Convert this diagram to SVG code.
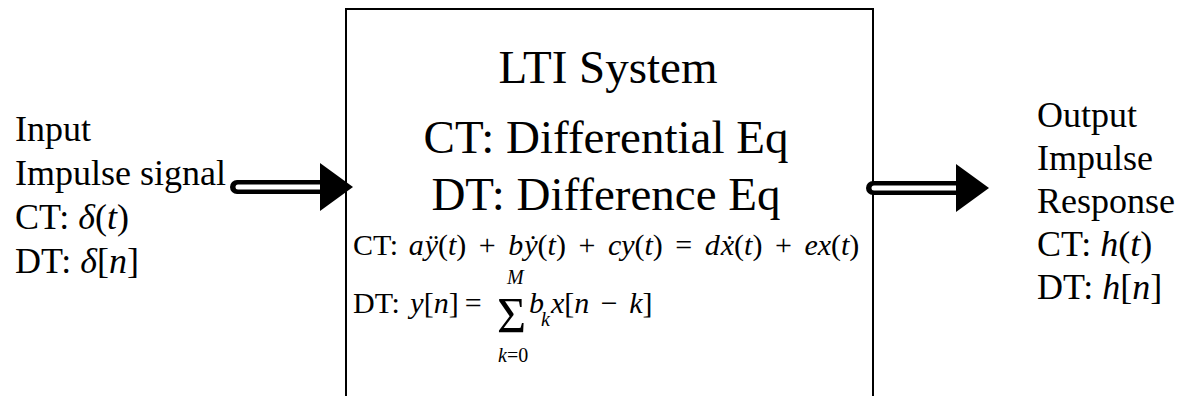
<svg xmlns="http://www.w3.org/2000/svg" width="1183" height="396" viewBox="0 0 1183 396" font-family="'Liberation Serif', 'Times New Roman', 'DejaVu Serif', serif">
<style>
text{font-family:'Liberation Serif','Times New Roman','DejaVu Serif',serif;fill:#000}
.lbl{font-size:36px}
.big{font-size:47px}
.eq{font-size:30px}
.sm{font-size:20px}
.it{font-style:italic}
</style>
<rect width="1183" height="396" fill="#fff"/>
<g id="input" font-family="'Liberation Serif', serif">
<text class="lbl" x="15" y="141">Input</text>
<text class="lbl" x="15" y="185">Impulse signal</text>
<text class="lbl" x="15" y="229">CT: <tspan class="it">δ</tspan>(<tspan class="it">t</tspan>)</text>
<text class="lbl" x="15" y="273">DT: <tspan class="it">δ</tspan>[<tspan class="it">n</tspan>]</text>
</g>
<g id="lti-system" font-family="'Liberation Serif', serif">
<rect x="346" y="9" width="527" height="400" fill="none" stroke="#000" stroke-width="2"/>
<text class="big" x="608" y="83" text-anchor="middle">LTI System</text>
<text class="big" x="606" y="153" text-anchor="middle">CT: Differential Eq</text>
<text class="big" x="606" y="210" text-anchor="middle">DT: Difference Eq</text>
<text class="eq" x="353" y="255">CT: <tspan class="it" dx="3">a</tspan><tspan class="it" dx="1">ÿ</tspan>(<tspan class="it">t</tspan>)<tspan dx="5"> + </tspan><tspan class="it" dx="5">b</tspan><tspan class="it" dx="1">ẏ</tspan>(<tspan class="it">t</tspan>)<tspan dx="5"> + </tspan><tspan class="it" dx="5">cy</tspan>(<tspan class="it">t</tspan>)<tspan dx="5"> = </tspan><tspan class="it" dx="5">d</tspan><tspan class="it" dx="1">ẋ</tspan>(<tspan class="it">t</tspan>)<tspan dx="5"> + </tspan><tspan class="it" dx="5">ex</tspan>(<tspan class="it">t</tspan>)</text>
<text class="eq" x="353" y="313">DT: <tspan class="it" dx="3">y</tspan>[<tspan class="it">n</tspan>]<tspan dx="6">=</tspan></text>
<text x="497" y="332" style="font-size:50px">Σ</text>
<text class="sm it" x="507" y="284">M</text>
<text class="sm" x="498" y="362"><tspan class="it">k</tspan>=0</text>
<text class="eq it" x="529" y="313">b</text>
<text class="sm it" x="541" y="326">k</text>
<text class="eq" x="551" y="313"><tspan class="it">x</tspan>[<tspan class="it">n</tspan><tspan dx="4"> − </tspan><tspan class="it" dx="4">k</tspan>]</text>
</g>
<g id="output" font-family="'Liberation Serif', serif">
<text class="lbl" x="1037" y="127">Output</text>
<text class="lbl" x="1037" y="170">Impulse</text>
<text class="lbl" x="1037" y="213">Response</text>
<text class="lbl" x="1037" y="256">CT: <tspan class="it">h</tspan>(<tspan class="it">t</tspan>)</text>
<text class="lbl" x="1037" y="299">DT: <tspan class="it">h</tspan>[<tspan class="it">n</tspan>]</text>
</g>
<g id="connectors">
<line x1="237" y1="187" x2="322" y2="187" stroke="#000" stroke-width="14" stroke-linecap="round"/>
<line x1="238" y1="187" x2="322" y2="187" stroke="#fff" stroke-width="5" stroke-linecap="round"/>
<polygon points="320,163 353,187 320,211" fill="#000"/>
<line x1="873" y1="188" x2="958" y2="188" stroke="#000" stroke-width="14" stroke-linecap="round"/>
<line x1="874" y1="188" x2="958" y2="188" stroke="#fff" stroke-width="5" stroke-linecap="round"/>
<polygon points="956,164 989,188 956,212" fill="#000"/>
</g>
</svg>
